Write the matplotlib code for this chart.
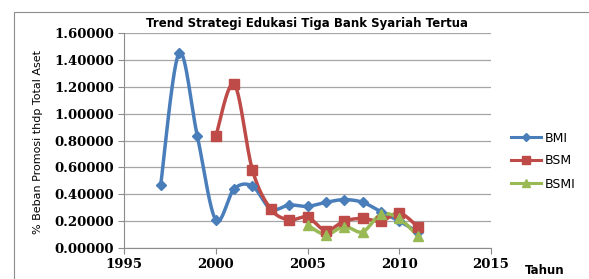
import numpy as np
import matplotlib.pyplot as plt
from matplotlib.patches import Rectangle
from matplotlib.lines import Line2D

years_bmi = [1997, 1998, 1999, 2000, 2001, 2002, 2003, 2004, 2005, 2006, 2007, 2008, 2009, 2010, 2011]
bmi = [0.47, 1.45, 0.83, 0.21, 0.44, 0.46, 0.29, 0.32, 0.31, 0.34, 0.36, 0.34, 0.27, 0.20, 0.12]

years_bsm = [2000, 2001, 2002, 2003, 2004, 2005, 2006, 2007, 2008, 2009, 2010, 2011]
bsm = [0.83, 1.22, 0.58, 0.29, 0.21, 0.23, 0.13, 0.20, 0.22, 0.20, 0.26, 0.16]

years_bsmi = [2005, 2006, 2007, 2008, 2009, 2010, 2011]
bsmi = [0.17, 0.10, 0.16, 0.12, 0.25, 0.22, 0.09]

yticks = [0.0, 0.2, 0.4, 0.6, 0.8, 1.0, 1.2, 1.4, 1.6]
xticks = [1995, 2000, 2005, 2010, 2015]


def smooth(x, y, n=30):
    # excel-like smoothed line: bezier segments with catmull-rom controls
    x = np.asarray(x, float)
    y = np.asarray(y, float)
    px = np.concatenate([[x[0]], x, [x[-1]]])
    py = np.concatenate([[y[0]], y, [y[-1]]])
    xs, ys = [], []
    t = np.linspace(0, 1, n)
    for i in range(1, len(px) - 2):
        p0 = np.array([px[i], py[i]])
        p3 = np.array([px[i + 1], py[i + 1]])
        p1 = p0 + (np.array([px[i + 1], py[i + 1]]) - np.array([px[i - 1], py[i - 1]])) / 6
        p2 = p3 - (np.array([px[i + 2], py[i + 2]]) - np.array([px[i], py[i]])) / 6
        b = ((1 - t) ** 3)[:, None] * p0 + (3 * (1 - t) ** 2 * t)[:, None] * p1 \
            + (3 * (1 - t) * t ** 2)[:, None] * p2 + (t ** 3)[:, None] * p3
        xs.extend(b[:, 0])
        ys.extend(b[:, 1])
    return xs, ys


fig = plt.figure(figsize=(5.89, 2.79), dpi=100)
fig.patches.append(Rectangle((14 / 589, -0.1), 1.0, 1 - 12 / 279 + 0.1, transform=fig.transFigure,
                             fill=False, edgecolor='#8c8c8c', linewidth=0.8))
ax = fig.add_axes([124 / 589, 1 - 248 / 279, 367 / 589, 215 / 279])

series = [
    ('BMI', years_bmi, bmi, '#4A7EBB', 'D', 5.5),
    ('BSM', years_bsm, bsm, '#BE4B48', 's', 7),
    ('BSMI', years_bsmi, bsmi, '#98B954', '^', 7),
]
handles = []
for name, xv, yv, c, m, ms in series:
    sx, sy = smooth(xv, yv)
    ax.plot(sx, sy, color=c, linewidth=2.5, zorder=2)
    ax.plot(xv, yv, linestyle='none', marker=m, markersize=ms, color=c, zorder=3)
    handles.append(Line2D([], [], color=c, linewidth=2.2, marker=m, markersize=ms - 1))

ax.set_xlim(1995, 2015)
ax.set_ylim(0, 1.6)
ax.set_xticks(xticks)
ax.set_yticks(yticks)
ax.set_yticklabels(['%.5f' % v for v in yticks])
ax.grid(axis='y', color='#a6a6a6', linewidth=0.9)
ax.set_axisbelow(True)
for s in ['top', 'right']:
    ax.spines[s].set_visible(False)
for s in ['left', 'bottom']:
    ax.spines[s].set_color('#8c8c8c')
ax.tick_params(axis='both', direction='out', length=4, color='#8c8c8c', labelsize=9.5, pad=3)
for lab in ax.get_xticklabels() + ax.get_yticklabels():
    lab.set_fontweight('bold')
    lab.set_family('DejaVu Serif')

ax.set_title('Trend Strategi Edukasi Tiga Bank Syariah Tertua', fontsize=8.5, fontweight='bold', pad=4)
fig.text(38 / 589, 1 - 142 / 279, '% Beban Promosi thdp Total Aset', rotation=90,
         ha='center', va='center', fontsize=8)
fig.text(525 / 589, 1 - 270 / 279, 'Tahun', ha='left', va='center', fontsize=8.5, fontweight='bold')

fig.legend(handles, [s[0] for s in series], loc='center left', bbox_to_anchor=(500 / 589, 1 - 161 / 279),
           frameon=False, fontsize=9, handlelength=2.4, handletextpad=0.3, labelspacing=0.8)

fig.savefig('out.png', dpi=100)
